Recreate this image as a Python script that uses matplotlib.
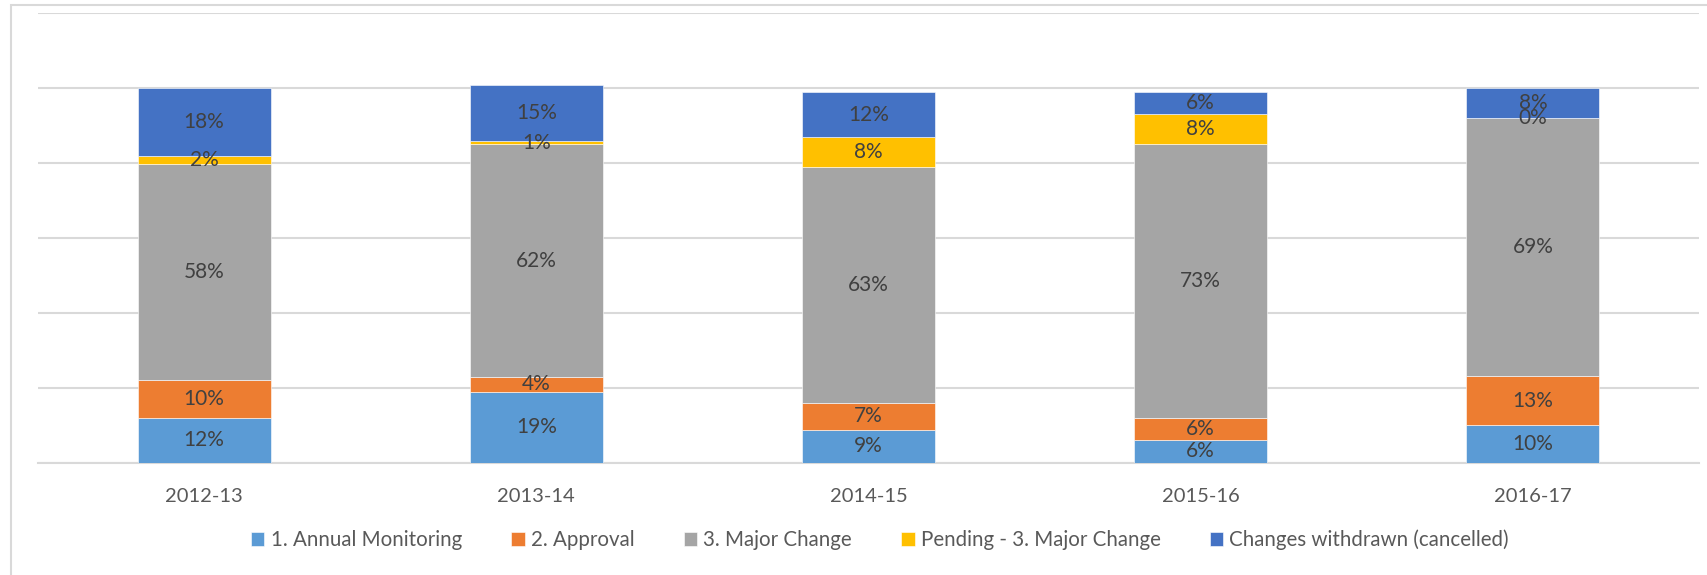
import matplotlib.pyplot as plt
from matplotlib.patches import Rectangle

plt.rcParams['font.family'] = ['Lato', 'DejaVu Sans']

years = ['2012-13', '2013-14', '2014-15', '2015-16', '2016-17']
annual = [11.9, 18.9, 8.8, 6.0, 9.9]
approval = [10.0, 4.0, 7.1, 6.0, 13.1]
major = [57.9, 62.0, 63.0, 73.1, 69.0]
pending = [2.1, 0.9, 8.0, 7.9, 0.0]
withdrawn = [18.0, 15.0, 12.0, 6.0, 8.1]

series = [
    ('1. Annual Monitoring', annual, '#5B9BD5'),
    ('2. Approval', approval, '#ED7D31'),
    ('3. Major Change', major, '#A5A5A5'),
    ('Pending - 3. Major Change', pending, '#FFC000'),
    ('Changes withdrawn (cancelled)', withdrawn, '#4472C4'),
]

W, H = 1708, 575
fig = plt.figure(figsize=(W / 100, H / 100), dpi=100)
ax = fig.add_axes([38 / W, 1 - 462.5 / H, (1699 - 38) / W, (462.5 - 13) / H])

# light frame of the chart area (only left and top are visible)
fig.patches.append(Rectangle((11 / W, -0.1), 1.2, 1.1 - 5 / H, transform=fig.transFigure,
                             fill=False, edgecolor='#d9d9d9', linewidth=1.5))

x = list(range(len(years)))
bottom = [0] * len(years)
for name, vals, color in series:
    ax.bar(x, vals, 0.4, bottom=bottom, color=color, label=name,
           edgecolor='white', linewidth=0.4, zorder=3)
    for i, v in enumerate(vals):
        ax.text(x[i], bottom[i] + v / 2, f'{v:.0f}%', ha='center', va='center',
                fontsize=15, color='#404040', zorder=4)
    bottom = [b + v for b, v in zip(bottom, vals)]

ax.set_xlim(-0.5, len(years) - 0.5)
ax.set_ylim(0, 120)
ax.set_yticks(range(0, 121, 20))
ax.yaxis.grid(True, color='#d9d9d9', linewidth=1.5, zorder=0)
ax.tick_params(axis='y', left=False, labelleft=False)
ax.set_xticks(x)
ax.set_xticklabels(years, fontsize=14.5, color='#595959')
ax.tick_params(axis='x', length=0, pad=18)
for side in ['top', 'right', 'left']:
    ax.spines[side].set_visible(False)
ax.spines['bottom'].set_color('#d9d9d9')
ax.spines['bottom'].set_linewidth(1.5)

leg = fig.legend(loc='center', bbox_to_anchor=(880 / W, 1 - 540 / H), ncol=5, frameon=False,
                 fontsize=14.8, handlelength=0.65, handleheight=0.65, handletextpad=0.3,
                 columnspacing=2.4)
for t in leg.get_texts():
    t.set_color('#595959')

fig.savefig('out.png', dpi=100)
